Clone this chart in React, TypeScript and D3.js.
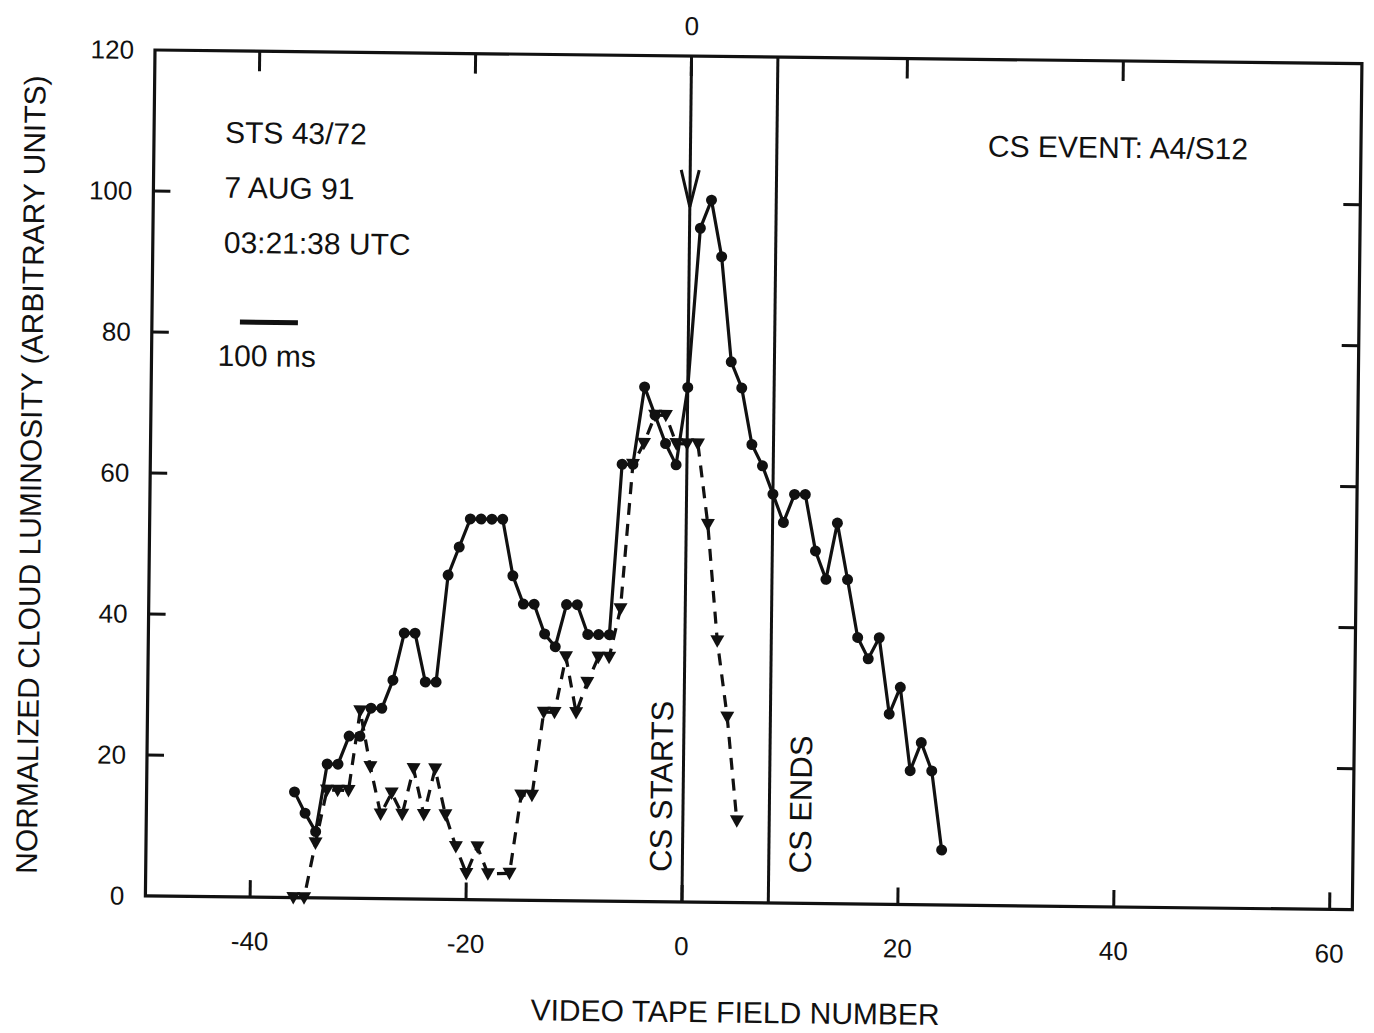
import React from "react";
import * as d3 from 'd3';

// video tape field numbers and luminosity
const circleFields = [
	-36, -35, -34, -33, -32, -31, -30, -29, -28, -27, -26, -25, -24, -23, -22, -21,
	-20, -19, -18, -17, -16, -15, -14, -13, -12, -11, -10, -9, -8, -7, -6, -5,
	-4, -3, -2, -1, 0, 1, 2, 3, 4, 5, 6, 7, 8, 9, 10, 11,
	12, 13, 14, 15, 16, 17, 18, 19, 20, 21, 22, 23, 24
];
const circleValues = [
	15, 12, 9.4, 19, 19, 23, 23, 27, 27, 31, 37.7, 37.7, 30.8, 30.8, 46, 50,
	54, 54, 54, 54, 46, 42, 42, 37.8, 36, 42, 42, 37.8, 37.8, 37.8, 62, 62,
	73, 69, 65, 62, 73, 95.6, 99.6, 91.6, 76.7, 73, 65, 62, 58, 54, 58, 58,
	50, 46, 54, 46, 37.8, 34.8, 37.8, 27, 30.8, 19, 23, 19, 7.8
];

const triangleFields = [
	-36, -35, -34, -33, -32, -31, -30, -29, -28, -27, -26, -25, -24, -23, -22, -21,
	-20, -19, -18, -16, -15, -14, -13, -12, -11, -10, -9, -8, -7, -6, -5, -4,
	-3, -2, -1, 0, 1, 2, 3, 4, 5
];
const triangleValues = [
	0, 0, 7.8, 15.3, 15.3, 15.3, 26.6, 18.7, 12, 15, 12, 18.5, 12, 18.5, 12, 7.5,
	3.7, 7.5, 3.7, 3.8, 14.9, 14.9, 26.7, 26.7, 34.6, 26.7, 31, 34.6, 34.6, 41.5, 62, 65,
	69, 69, 65, 65, 65, 53.6, 37.1, 26.3, 11.6
];

const xTicks = [-40, -20, 0, 20, 40, 60];
const xTopTicks = [-40, -20, 0, 20, 40];
const yTicks = [0, 20, 40, 60, 80, 100, 120];
const csStart = 0;
const csEnd = 8;
const infoLines = ['STS 43/72', '7 AUG 91', '03:21:38 UTC'];

const font = '"Liberation Sans", Arial, Helvetica, sans-serif';
const ink = '#111';

class LuminosityChart extends React.Component<{}, {}> {
	myRef: React.RefObject<HTMLDivElement | null> = React.createRef();

	componentDidMount() {
		const node = this.myRef.current;
		if (!node) {
			return;
		}
		d3.select(node).selectAll('*').remove();

		const width = 1374;
		const height = 1033;
		const left = 155, right = 1362, top = 50, bottom = 896;

		const svg = d3.select(node).append('svg')
			.attr('width', width)
			.attr('height', height)
			.style('display', 'block')
			.style('background', '#fff');

		const x = d3.scaleLinear().domain([-49.7, 62.1]).range([left, right]);
		const y = d3.scaleLinear().domain([0, 120]).range([bottom, top]);

		// the scanned page sits a little crooked
		const g = svg.append('g').attr('transform', `rotate(0.65, ${left}, ${top})`)
			.attr('font-family', font)
			.attr('fill', ink);

		// frame
		g.append('rect')
			.attr('x', left).attr('y', top)
			.attr('width', right - left).attr('height', bottom - top)
			.attr('fill', 'none').attr('stroke', ink).attr('stroke-width', 3.2);

		const tickLen = 17;
		g.selectAll('.xtick').data(xTicks).enter().append('line')
			.attr('x1', d => x(d)).attr('x2', d => x(d))
			.attr('y1', bottom).attr('y2', bottom - tickLen)
			.attr('stroke', ink).attr('stroke-width', 3);
		g.selectAll('.xtoptick').data(xTopTicks).enter().append('line')
			.attr('x1', d => x(d)).attr('x2', d => x(d))
			.attr('y1', top).attr('y2', top + tickLen + 3)
			.attr('stroke', ink).attr('stroke-width', 3);
		const inner = yTicks.filter(d => d > 0 && d < 120);
		g.selectAll('.yltick').data(inner).enter().append('line')
			.attr('x1', left).attr('x2', left + tickLen)
			.attr('y1', d => y(d)).attr('y2', d => y(d))
			.attr('stroke', ink).attr('stroke-width', 3);
		g.selectAll('.yrtick').data(inner).enter().append('line')
			.attr('x1', right).attr('x2', right - tickLen)
			.attr('y1', d => y(d)).attr('y2', d => y(d))
			.attr('stroke', ink).attr('stroke-width', 3);

		// tick labels
		g.selectAll('.xlab').data(xTicks).enter().append('text')
			.attr('x', d => x(d)).attr('y', bottom + 53)
			.attr('text-anchor', 'middle').attr('font-size', 26)
			.text(d => String(d));
		g.selectAll('.ylab').data(yTicks).enter().append('text')
			.attr('x', 134).attr('y', d => y(d) + 9)
			.attr('text-anchor', 'end').attr('font-size', 26)
			.text(d => String(d));

		// axis titles
		g.append('text')
			.attr('x', 746).attr('y', 1016)
			.attr('text-anchor', 'middle').attr('font-size', 30)
			.text('VIDEO TAPE FIELD NUMBER');
		g.append('text')
			.attr('transform', 'translate(46, 476) rotate(-90)')
			.attr('text-anchor', 'middle').attr('font-size', 30)
			.text('NORMALIZED CLOUD LUMINOSITY (ARBITRARY UNITS)');

		// CS start / end markers
		[csStart, csEnd].forEach(f => {
			g.append('line')
				.attr('x1', x(f)).attr('x2', x(f))
				.attr('y1', top).attr('y2', bottom)
				.attr('stroke', ink).attr('stroke-width', 3);
		});
		const tipY = y(98.6);
		g.append('path')
			.attr('d', `M${x(csStart) - 9},${tipY - 37} L${x(csStart)},${tipY} L${x(csStart) + 9},${tipY - 37}`)
			.attr('fill', 'none').attr('stroke', ink).attr('stroke-width', 3);
		g.append('text')
			.attr('x', x(csStart)).attr('y', 29)
			.attr('text-anchor', 'middle').attr('font-size', 26)
			.text('0');
		g.append('text')
			.attr('transform', `translate(${x(csStart) - 11}, 866) rotate(-90)`)
			.attr('font-size', 31)
			.text('CS STARTS');
		g.append('text')
			.attr('transform', `translate(${x(csEnd) + 42}, 866) rotate(-90)`)
			.attr('font-size', 31)
			.text('CS ENDS');

		// annotations
		g.selectAll('.info').data(infoLines).enter().append('text')
			.attr('x', 226).attr('y', (d, i) => 142 + i * 55)
			.attr('font-size', 30)
			.text(d => d);
		g.append('line')
			.attr('x1', 243).attr('x2', 301).attr('y1', 321).attr('y2', 321)
			.attr('stroke', ink).attr('stroke-width', 5);
		g.append('text')
			.attr('x', 221).attr('y', 365).attr('font-size', 30)
			.text('100 ms');
		g.append('text')
			.attr('x', 989).attr('y', 147).attr('font-size', 30)
			.text('CS EVENT: A4/S12');

		// series
		const circlePts = circleFields.map((f, i) => [x(f), y(circleValues[i])] as [number, number]);
		const trianglePts = triangleFields.map((f, i) => [x(f), y(triangleValues[i])] as [number, number]);
		const line = d3.line();

		g.append('path')
			.attr('d', line(trianglePts) as string)
			.attr('fill', 'none').attr('stroke', ink).attr('stroke-width', 3.2)
			.attr('stroke-dasharray', '12,9');
		g.append('path')
			.attr('d', line(circlePts) as string)
			.attr('fill', 'none').attr('stroke', ink).attr('stroke-width', 3.2);

		g.selectAll('.tri').data(trianglePts).enter().append('path')
			.attr('d', 'M-7,-5.5 L7,-5.5 L0,7 Z')
			.attr('transform', d => `translate(${d[0]}, ${d[1]})`)
			.attr('fill', ink);
		g.selectAll('.dot').data(circlePts).enter().append('circle')
			.attr('cx', d => d[0]).attr('cy', d => d[1]).attr('r', 5.5)
			.attr('fill', ink);
	}

	render() {
		return <div ref={this.myRef} style={{ position: 'absolute', left: 0, top: 0 }} />;
	}
}

export default function App() {
	return <LuminosityChart />;
}
